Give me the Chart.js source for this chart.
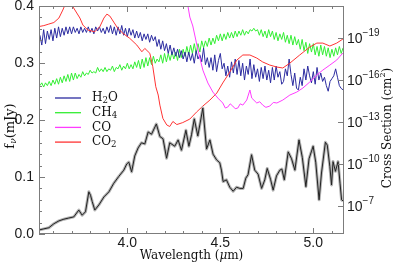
<!DOCTYPE html>
<html>
<head>
<meta charset="utf-8">
<script src="https://cdn.jsdelivr.net/npm/chart.js@4.4.1/dist/chart.umd.min.js"></script>
<style>
  html, body { margin: 0; padding: 0; background: #fff; }
  canvas { display: block; }
</style>
</head>
<body>
<canvas id="spec" width="397" height="266"></canvas>
<script>
// wavelength grid (um) shared by the H2O and CH4 cross sections
const wlGrid = [
  3.53, 3.54, 3.55, 3.56, 3.57, 3.58, 3.59, 3.60, 3.61, 3.62,
  3.63, 3.64, 3.65, 3.66, 3.67, 3.68, 3.69, 3.70, 3.71, 3.72,
  3.73, 3.74, 3.75, 3.76, 3.77, 3.78, 3.79, 3.80, 3.81, 3.82,
  3.83, 3.84, 3.85, 3.86, 3.87, 3.88, 3.89, 3.90, 3.91, 3.92,
  3.93, 3.94, 3.95, 3.96, 3.97, 3.98, 3.99, 4.00, 4.01, 4.02,
  4.03, 4.04, 4.05, 4.06, 4.07, 4.08, 4.09, 4.10, 4.11, 4.12,
  4.13, 4.14, 4.15, 4.16, 4.17, 4.18, 4.19, 4.20, 4.21, 4.22,
  4.23, 4.24, 4.25, 4.26, 4.27, 4.28, 4.29, 4.30, 4.31, 4.32,
  4.33, 4.34, 4.35, 4.36, 4.37, 4.38, 4.39, 4.40, 4.41, 4.42,
  4.43, 4.44, 4.45, 4.46, 4.47, 4.48, 4.49, 4.50, 4.51, 4.52,
  4.53, 4.54, 4.55, 4.56, 4.57, 4.58, 4.59, 4.60, 4.61, 4.62,
  4.63, 4.64, 4.65, 4.66, 4.67, 4.68, 4.69, 4.70, 4.71, 4.72,
  4.73, 4.74, 4.75, 4.76, 4.77, 4.78, 4.79, 4.80, 4.81, 4.82,
  4.83, 4.84, 4.85, 4.86, 4.87, 4.88, 4.89, 4.90, 4.91, 4.92,
  4.93, 4.94, 4.95, 4.96, 4.97, 4.98, 4.99, 5.00, 5.01, 5.02,
  5.03, 5.04, 5.05, 5.06, 5.07, 5.08, 5.09, 5.10, 5.11, 5.12,
  5.13, 5.14, 5.15, 5.16
];

// log10 cross section (cm^2)
const h2oLogSigma = [
  -19.2, -18.5, -19.6, -18.6, -19.5, -18.9, -19.6, -18.8, -19.7, -19.0,
  -19.8, -19.1, -19.7, -19.2, -19.8, -19.3, -19.8, -19.3, -19.8, -19.4,
  -19.7, -19.3, -19.8, -19.4, -19.7, -19.4, -19.8, -19.4, -19.7, -19.3,
  -19.8, -19.5, -19.8, -19.4, -19.7, -19.3, -19.8, -19.4, -19.9, -19.3,
  -19.8, -19.2, -19.8, -19.3, -19.9, -19.2, -19.7, -19.1, -19.7, -19.2,
  -19.6, -19.0, -19.5, -19.0, -19.4, -18.8, -19.3, -18.9, -19.3, -18.7,
  -19.2, -18.8, -19.1, -18.4, -18.9, -18.2, -18.8, -18.1, -18.6, -17.9,
  -18.5, -17.8, -18.3, -17.7, -18.2, -17.6, -18.1, -17.5, -18.0, -17.3,
  -18.0, -17.4, -17.9, -17.2, -18.1, -17.5, -17.8, -17.3, -18.3, -17.1,
  -17.6, -16.9, -17.6, -16.7, -17.8, -16.6, -17.4, -17.9, -16.8, -17.2,
  -16.3, -17.0, -16.2, -17.3, -16.5, -17.5, -16.4, -17.4, -16.3, -17.2,
  -16.0, -17.0, -16.4, -17.5, -16.1, -17.1, -16.2, -16.8, -15.9, -16.9,
  -16.1, -17.0, -16.0, -16.7, -15.8, -16.9, -16.0, -17.0, -16.2, -16.6,
  -15.7, -15.9, -16.8, -16.3, -17.5, -16.4, -15.6, -16.5, -15.4, -15.3,
  -16.2, -15.6, -16.8, -16.0, -17.0, -16.3, -15.8, -16.6, -15.7, -16.9,
  -16.0, -16.5, -15.9, -16.2, -15.6, -15.2, -15.9, -16.1, -16.3, -16.8,
  -16.2, -15.6, -15.4, -15.3
];

const ch4LogSigma = [
  -15.6, -15.8, -15.5, -15.8, -15.6, -15.9, -15.6, -16.0, -15.7, -16.1,
  -15.7, -16.2, -15.8, -16.3, -15.9, -16.4, -15.9, -16.5, -16.0, -16.5,
  -16.1, -16.4, -16.2, -16.6, -16.3, -16.5, -16.4, -16.7, -16.5, -16.6,
  -16.5, -16.9, -16.6, -16.8, -16.6, -16.9, -16.6, -16.8, -16.7, -17.0,
  -16.6, -16.9, -16.8, -17.1, -16.7, -17.0, -16.8, -17.2, -16.8, -17.1,
  -16.8, -17.3, -16.9, -17.4, -16.8, -17.5, -16.9, -17.6, -17.0, -17.6,
  -17.1, -17.7, -17.2, -17.5, -17.3, -17.8, -17.2, -17.9, -17.3, -17.9,
  -17.4, -18.0, -17.5, -18.0, -17.4, -18.2, -17.6, -18.2, -17.7, -18.4,
  -17.8, -18.5, -17.9, -18.6, -17.9, -18.6, -18.0, -18.8, -18.3, -18.8,
  -18.4, -19.0, -18.5, -19.0, -18.6, -19.2, -18.8, -19.3, -18.8, -19.3,
  -18.9, -19.4, -19.0, -19.4, -19.0, -19.5, -19.1, -19.5, -19.2, -19.6,
  -19.2, -19.5, -19.3, -19.6, -19.5, -19.7, -19.5, -19.6, -19.2, -19.6,
  -19.1, -19.5, -19.0, -19.6, -19.1, -19.5, -18.9, -19.4, -18.8, -19.3,
  -18.9, -19.4, -18.7, -19.2, -18.6, -19.2, -18.5, -19.1, -18.5, -18.9,
  -18.2, -18.9, -18.1, -18.7, -17.9, -18.6, -18.0, -18.6, -17.8, -18.4,
  -17.7, -18.5, -17.8, -18.4, -17.7, -18.3, -17.6, -18.2, -17.7, -18.3,
  -17.8, -18.4, -17.9, -18.3
];

const coWl = [
  4.304, 4.325, 4.336, 4.352, 4.374, 4.390, 4.406, 4.433, 4.460, 4.487,
  4.513, 4.527, 4.540, 4.553, 4.567, 4.580, 4.594, 4.607, 4.621, 4.642,
  4.659, 4.669, 4.696, 4.712, 4.728, 4.745, 4.766, 4.785, 4.804, 4.836,
  4.874, 4.911, 4.944, 4.981, 5.019, 5.051, 5.089, 5.126, 5.159
];
const coLogSigma = [
  -22.29, -21.36, -20.5, -19.86, -18.5, -17.57, -16.71, -15.79, -15.14, -14.71,
  -14.36, -14.0, -14.07, -14.3, -14.14, -13.95, -14.0, -14.3, -14.21, -14.57,
  -15.29, -14.71, -14.36, -14.45, -14.21, -14.05, -14.14, -14.4, -14.36, -14.57,
  -14.93, -15.14, -15.43, -15.86, -16.36, -16.71, -17.07, -17.43, -17.93
];

const co2Wl = [
  3.524, 3.551, 3.578, 3.605, 3.632, 3.653, 3.669, 3.680, 3.691, 3.707,
  3.728, 3.745, 3.761, 3.788, 3.825, 3.852, 3.874, 3.890, 3.906, 3.927,
  3.949, 3.976, 4.013, 4.051, 4.078, 4.094, 4.121, 4.137, 4.153, 4.166,
  4.175, 4.191, 4.212, 4.228, 4.245, 4.266, 4.298, 4.336, 4.372, 4.406,
  4.444, 4.481, 4.513, 4.551, 4.589, 4.621, 4.659, 4.696, 4.728, 4.766,
  4.804, 4.836, 4.874, 4.927, 4.981, 5.019, 5.051, 5.089, 5.126, 5.159
];
const co2LogSigma = [
  -19.82, -19.89, -20.0, -20.11, -20.43, -21.0, -21.5, -21.71, -21.71, -21.24,
  -20.79, -20.43, -19.93, -19.57, -19.45, -19.81, -20.43, -20.71, -20.57, -20.14,
  -19.69, -19.34, -18.98, -18.5, -18.02, -18.26, -17.91, -16.95, -15.52, -14.93,
  -14.21, -13.26, -12.79, -12.68, -13.04, -12.82, -12.96, -13.21, -13.71, -14.14,
  -14.57, -15.07, -15.79, -16.57, -17.43, -17.79, -17.79, -17.57, -17.29, -17.07,
  -16.93, -16.86, -17.21, -17.79, -18.36, -18.64, -18.64, -18.43, -18.64, -18.93
];

// observed spectrum, f_nu in mJy
const specWl = [
  3.524, 3.551, 3.578, 3.605, 3.632, 3.659, 3.685, 3.712, 3.739, 3.757,
  3.775, 3.793, 3.802, 3.811, 3.825, 3.847, 3.874, 3.901, 3.927, 3.954,
  3.981, 3.997, 4.008, 4.023, 4.040, 4.058, 4.076, 4.094, 4.112, 4.130,
  4.156, 4.175, 4.192, 4.211, 4.228, 4.255, 4.273, 4.291, 4.315, 4.331,
  4.345, 4.360, 4.379, 4.406, 4.426, 4.444, 4.461, 4.480, 4.497, 4.506,
  4.515, 4.533, 4.551, 4.569, 4.587, 4.605, 4.623, 4.637, 4.649, 4.668,
  4.685, 4.703, 4.722, 4.739, 4.752, 4.770, 4.784, 4.802, 4.820, 4.831,
  4.844, 4.865, 4.883, 4.901, 4.923, 4.941, 4.960, 4.977, 4.999, 5.013,
  5.031, 5.044, 5.065, 5.075, 5.089, 5.098, 5.106, 5.119, 5.133, 5.144,
  5.152, 5.160
];
const specFlux = [
  0.007, 0.009, 0.011, 0.018, 0.023, 0.026, 0.028, 0.030, 0.042, 0.033,
  0.039, 0.074, 0.068, 0.057, 0.042, 0.051, 0.065, 0.074, 0.089, 0.101,
  0.112, 0.123, 0.126, 0.109, 0.137, 0.151, 0.160, 0.158, 0.179, 0.175,
  0.193, 0.171, 0.167, 0.133, 0.160, 0.154, 0.165, 0.147, 0.182, 0.154,
  0.174, 0.202, 0.172, 0.221, 0.149, 0.165, 0.140, 0.130, 0.125, 0.112,
  0.092, 0.095, 0.082, 0.075, 0.082, 0.080, 0.080, 0.098, 0.104, 0.139,
  0.112, 0.105, 0.080, 0.095, 0.115, 0.096, 0.077, 0.102, 0.112, 0.114,
  0.095, 0.144, 0.132, 0.112, 0.165, 0.134, 0.083, 0.132, 0.154, 0.126,
  0.060, 0.107, 0.161, 0.156, 0.118, 0.086, 0.127, 0.110, 0.127, 0.088,
  0.060, 0.058
];

// ticks
const xMajor = [4.0, 4.5, 5.0];
const xLabels = ['4.0', '4.5', '5.0'];
const xMinor = [3.6, 3.7, 3.8, 3.9, 4.1, 4.2, 4.3, 4.4, 4.6, 4.7, 4.8, 4.9, 5.1];
const yMajor = [0.0, 0.1, 0.2, 0.3, 0.4];
const yLabels = ['0.0', '0.1', '0.2', '0.3', '0.4'];
const yMinor = [0.02, 0.04, 0.06, 0.08, 0.12, 0.14, 0.16, 0.18, 0.22, 0.24, 0.26, 0.28, 0.32, 0.34, 0.36, 0.38];
const sigmaMajor = [-19, -16, -13, -10, -7];

const legendNames = ['H2O', 'CH4', 'CO', 'CO2'];
const legendColors = ['#2b2ba0', '#33ee33', '#ff3cff', '#ff3333'];

const AXIS_GREY = '#7c7c7c';
const SERIF = '"DejaVu Serif"';
const SANS = '"Liberation Sans"';

function pts(xs, ys) {
    return xs.map((x, i) => ({ x: x, y: ys[i] }));
}

// draw text made of runs, each run: [text, size, dy, family, style]
function richText(ctx, runs, x, y, align) {
    let w = 0;
    runs.forEach(r => {
        ctx.font = `${r[4] || ''} ${r[1]}px ${r[3]}`;
        w += ctx.measureText(r[0]).width;
    });
    let cx = align === 'center' ? x - w / 2 : (align === 'right' ? x - w : x);
    ctx.textAlign = 'left';
    runs.forEach(r => {
        ctx.font = `${r[4] || ''} ${r[1]}px ${r[3]}`;
        ctx.fillText(r[0], cx, y + (r[2] || 0));
        cx += ctx.measureText(r[0]).width;
    });
}

function formulaRuns(name, size) {
    return name.split(/(\d+)/).filter(s => s).map(s =>
        /\d/.test(s) ? [s, size * 0.72, 3, SERIF] : [s, size, 0, SERIF]);
}

const decor = {
    id: 'decor',
    afterDraw(chart) {
        const { ctx, chartArea: a } = chart;
        const sx = chart.scales.x, sy = chart.scales.y, ss = chart.scales.ys;
        ctx.save();

        // frame + inward ticks
        ctx.strokeStyle = AXIS_GREY;
        ctx.lineWidth = 1;
        ctx.strokeRect(a.left + 0.5, a.top + 0.5, a.width - 1, a.height - 1);
        ctx.beginPath();
        const xt = (v, len) => {
            const p = Math.round(sx.getPixelForValue(v)) + 0.5;
            ctx.moveTo(p, a.bottom); ctx.lineTo(p, a.bottom - len);
            ctx.moveTo(p, a.top); ctx.lineTo(p, a.top + len);
        };
        xMajor.forEach(v => xt(v, 6));
        xMinor.forEach(v => xt(v, 3));
        const yt = (v, len) => {
            const p = Math.round(sy.getPixelForValue(v)) + 0.5;
            ctx.moveTo(a.left, p); ctx.lineTo(a.left + len, p);
        };
        yMajor.forEach(v => yt(v, 6));
        yMinor.forEach(v => yt(v, 3));
        sigmaMajor.forEach(v => {
            const p = Math.round(ss.getPixelForValue(v)) + 0.5;
            ctx.moveTo(a.right, p); ctx.lineTo(a.right - 6, p);
        });
        ctx.stroke();

        // tick labels
        ctx.fillStyle = '#1a1a1a';
        ctx.font = `14px ${SANS}`;
        ctx.textBaseline = 'middle';
        ctx.textAlign = 'right';
        yMajor.forEach((v, i) => ctx.fillText(yLabels[i], a.left - 5, sy.getPixelForValue(v)));
        ctx.textAlign = 'center';
        xMajor.forEach((v, i) => ctx.fillText(xLabels[i], sx.getPixelForValue(v), a.bottom + 9));
        sigmaMajor.forEach(v => {
            const p = ss.getPixelForValue(v);
            richText(ctx, [['10', 14, 1, SANS], ['\u2212' + Math.abs(v), 10, -5, SANS]], a.right + 3, p, 'left');
        });

        // axis titles
        ctx.fillStyle = '#111';
        richText(ctx, [['Wavelength (', 12, 0, SERIF], ['\u03bc', 12, 0, SERIF, 'italic'], ['m)', 12, 0, SERIF]],
            (a.left + a.right) / 2, a.bottom + 22, 'center');
        ctx.save();
        ctx.translate(11, (a.top + a.bottom) / 2 + 6);
        ctx.rotate(-Math.PI / 2);
        richText(ctx, [['f', 13, 0, SERIF], ['\u03bd', 9, 3, SERIF, 'italic'], ['(mJy)', 13, 0, SERIF]], 0, 0, 'center');
        ctx.restore();
        ctx.save();
        ctx.translate(388, (a.top + a.bottom) / 2 + 8);
        ctx.rotate(-Math.PI / 2);
        richText(ctx, [['Cross Section (cm', 12, 0, SERIF], ['2', 8, -5, SERIF], [')', 12, 0, SERIF]], 0, 0, 'center');
        ctx.restore();

        // legend
        legendNames.forEach((name, i) => {
            const y = 98 + i * 14.7;
            ctx.strokeStyle = legendColors[i];
            ctx.lineWidth = 1.3;
            ctx.beginPath();
            ctx.moveTo(55, y); ctx.lineTo(81, y);
            ctx.stroke();
            ctx.fillStyle = '#111';
            richText(ctx, formulaRuns(name, 12), 92, y, 'left');
        });
        ctx.restore();
    }
};

const lineStyle = { pointRadius: 0, tension: 0, fill: false, borderJoinStyle: 'round' };

new Chart(document.getElementById('spec'), {
    type: 'line',
    data: {
        datasets: [
            { label: 'spectrum', data: pts(specWl, specFlux), yAxisID: 'y', borderColor: '#222', borderWidth: 1, ...lineStyle },
            { label: 'errors', data: pts(specWl, specFlux), yAxisID: 'y', borderColor: '#b4b4b4', borderWidth: 3, ...lineStyle },
            { label: 'CO', data: pts(coWl, coLogSigma), yAxisID: 'ys', borderColor: legendColors[2], borderWidth: 1, ...lineStyle },
            { label: 'CO2', data: pts(co2Wl, co2LogSigma), yAxisID: 'ys', borderColor: legendColors[3], borderWidth: 1, ...lineStyle },
            { label: 'H2O', data: pts(wlGrid, h2oLogSigma), yAxisID: 'ys', borderColor: legendColors[0], borderWidth: 1, ...lineStyle },
            { label: 'CH4', data: pts(wlGrid, ch4LogSigma), yAxisID: 'ys', borderColor: legendColors[1], borderWidth: 1, ...lineStyle }
        ]
    },
    options: {
        responsive: false,
        animation: false,
        devicePixelRatio: 1,
        layout: { padding: { top: 6, left: 0, right: 0, bottom: 0 } },
        scales: {
            x: {
                type: 'linear', min: 3.525, max: 5.165,
                ticks: { display: false }, grid: { display: false }, border: { display: false },
                afterFit(s) { s.height = 32; }
            },
            y: {
                type: 'linear', position: 'left', min: 0, max: 0.4,
                ticks: { display: false }, grid: { display: false }, border: { display: false },
                afterFit(s) { s.width = 39; }
            },
            ys: {
                type: 'linear', position: 'right', min: -21.29, max: -5.0, reverse: true,
                ticks: { display: false }, grid: { display: false }, border: { display: false },
                afterFit(s) { s.width = 53; }
            }
        },
        plugins: {
            legend: { display: false },
            tooltip: { enabled: false }
        }
    },
    plugins: [decor]
});
</script>
</body>
</html>
